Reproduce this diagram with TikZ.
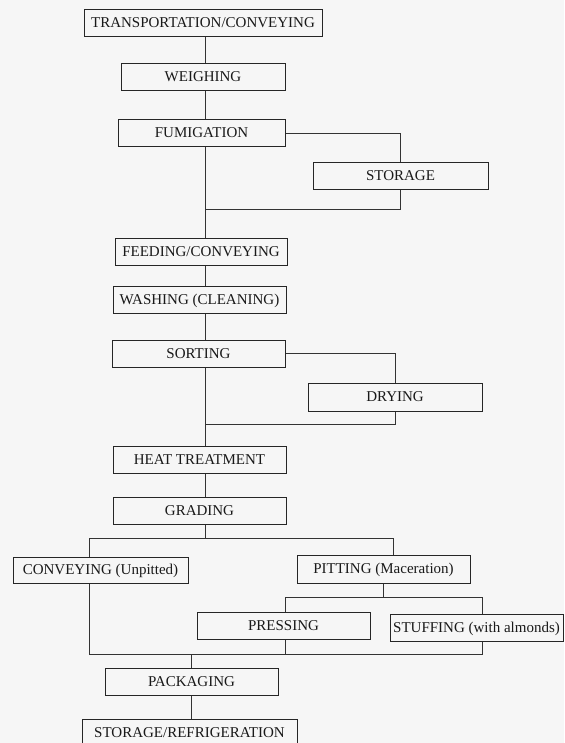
\documentclass[tikz,border=0pt]{standalone}
\usepackage{fontspec}
\setmainfont{Liberation Serif}

\begin{document}
\begin{tikzpicture}[x=1pt, y=-1pt,
  procbox/.style={draw=black!85, line width=1pt, inner sep=0pt,
    minimum height=27pt, text height=9.5pt, text depth=0.5pt,
    font=\fontsize{15}{17}\selectfont, text=black!90},
  link/.style={draw=black!80, line width=1pt}]
  % Page (scanned paper tone)
  \useasboundingbox (0,0) rectangle (564,743);
  \fill[gray!7] (0,0) rectangle (564,743);

  % Main line of process steps
  \node[procbox, minimum width=238pt] (transport) at (203,23.5) {TRANSPORTATION/CONVEYING};
  \node[procbox, minimum width=164pt] (weighing) at (203,77.5) {WEIGHING};
  \node[procbox, minimum width=167pt] (fumigation) at (201.5,133.5) {FUMIGATION};
  \node[procbox, minimum width=175pt] (storage) at (400.5,176.5) {STORAGE};
  \node[procbox, minimum width=172pt] (feeding) at (201,251.5) {FEEDING/CONVEYING};
  \node[procbox, minimum width=173pt] (washing) at (199.5,299.5) {WASHING (CLEANING)};
  \node[procbox, minimum width=173pt] (sorting) at (198.5,353.5) {SORTING};
  \node[procbox, minimum width=174pt, minimum height=28pt] (drying) at (395,397) {DRYING};
  \node[procbox, minimum width=173pt] (heat) at (199.5,459.5) {HEAT TREATMENT};
  \node[procbox, minimum width=173pt] (grading) at (199.5,510.5) {GRADING};

  % Two branches after grading
  \node[procbox, minimum width=175pt, minimum height=26pt] (unpitted) at (100.5,570) {CONVEYING (Unpitted)};
  \node[procbox, minimum width=173pt, minimum height=28pt] (pitting) at (383.5,569) {PITTING (Maceration)};
  \node[procbox, minimum width=173pt] (pressing) at (283.5,625.5) {PRESSING};
  \node[procbox, minimum width=173pt] (stuffing) at (476.5,627.5) {STUFFING (with almonds)};

  % Final steps
  \node[procbox, minimum width=173pt] (packaging) at (191.5,682) {PACKAGING};
  \node[procbox, minimum width=215pt] (refrig) at (189.5,732.5) {STORAGE/REFRIGERATION};

  % Elbow points
  \coordinate (spine) at (205,0);
  \coordinate (join1) at (205,210);
  \coordinate (join2) at (205,424);
  \coordinate (split1) at (205,538);
  \coordinate (g1) at (89,538);
  \coordinate (g2) at (393,538);
  \coordinate (p1) at (285,597);
  \coordinate (p2) at (482,597);
  \coordinate (q1) at (89,654);
  \coordinate (q2) at (482,654);

  % Spine connectors
  \draw[link] (transport.south -| spine) -- (weighing.north -| spine);
  \draw[link] (weighing.south -| spine) -- (fumigation.north -| spine);
  \draw[link] (fumigation.south -| spine) -- (feeding.north -| spine);
  \draw[link] (feeding.south -| spine) -- (washing.north -| spine);
  \draw[link] (washing.south -| spine) -- (sorting.north -| spine);
  \draw[link] (sorting.south -| spine) -- (heat.north -| spine);
  \draw[link] (heat.south -| spine) -- (grading.north -| spine);

  % Side loops (storage, drying)
  \draw[link] (fumigation.east) -| (storage.north);
  \draw[link] (storage.south) |- (join1);
  \draw[link] (sorting.east) -| (drying.north);
  \draw[link] (drying.south) |- (join2);

  % Split after grading
  \draw[link] (grading.south -| spine) -- (split1);
  \draw[link] (g1 |- unpitted.north) -- (g1) -- (g2) -- (g2 |- pitting.north);

  % Split after pitting
  \draw[link] (pitting.south) -- (pitting.south |- p1);
  \draw[link] (p1 |- pressing.north) -- (p1) -- (p2) -- (p2 |- stuffing.north);

  % Collector to packaging
  \draw[link] (g1 |- unpitted.south) -- (q1) -- (q2) -- (q2 |- stuffing.south);
  \draw[link] (p1 |- pressing.south) -- (p1 |- q1);
  \draw[link] (packaging.north |- q1) -- (packaging.north);
  \draw[link] (packaging.south) -- (packaging.south |- refrig.north);
\end{tikzpicture}
\end{document}
